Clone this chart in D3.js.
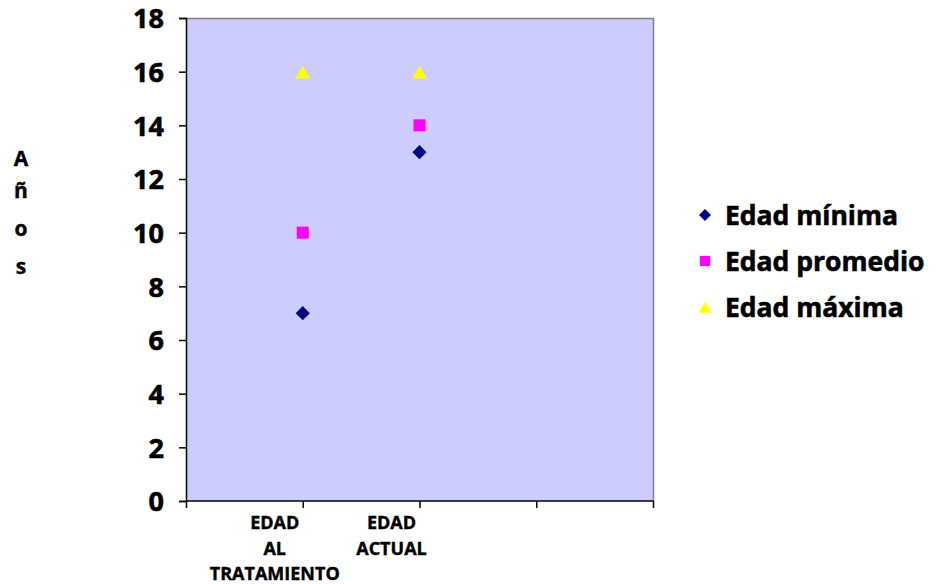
<!DOCTYPE html>
<html><head><meta charset="utf-8">
<script src="https://cdn.jsdelivr.net/npm/d3@7"></script>
<style>body{margin:0;background:#fff}svg{display:block}</style>
</head><body>
<svg id="c" width="937" height="584"></svg>
<script>
const slots = ["s0","s1","s2","s3","s4"];
const categories = ["EDAD AL TRATAMIENTO","EDAD ACTUAL"];
const categorySlots = ["s1","s2"];
const categoryLines = [["EDAD","AL","TRATAMIENTO"],["EDAD","ACTUAL"]];
const edadMinima = [7,13];
const edadPromedio = [10,14];
const edadMaxima = [16,16];
const yTicks = [0,2,4,6,8,10,12,14,16,18];
const seriesNames = ["Edad mínima","Edad promedio","Edad máxima"];
const yTitle = ["A","ñ","o","s"];

const svg = d3.select("#c");
const font = "'Open Sans', sans-serif";
const L=186, R=653, T=18, B=501;
const x = d3.scalePoint().domain(slots).range([L,R]);
const y = d3.scaleLinear().domain([0,18]).range([B,T]);

function boldText(sel){
  return sel.attr("font-family",font).attr("font-weight","bold").attr("fill","#000")
    .attr("stroke","#000").attr("stroke-width",0.6);
}

svg.append("rect").attr("x",L).attr("y",T).attr("width",R-L).attr("height",B-T).attr("fill","#CCCCFF");
svg.append("path").attr("d",`M${L},${T+0.5}H${R+0.5}V${B}`).attr("fill","none").attr("stroke","#808080").attr("stroke-width",1.5);

const ya = svg.append("g").attr("transform",`translate(${L},0)`)
  .call(d3.axisLeft(y).tickValues(yTicks).tickSize(7).tickPadding(15));
ya.select(".domain").attr("stroke","#000").attr("stroke-width",1.5);
ya.selectAll(".tick line").attr("stroke","#000").attr("stroke-width",1.5);
boldText(ya.selectAll(".tick text")).attr("font-size",27).attr("dy","0.36em");

const xa = svg.append("g").attr("transform",`translate(0,${B})`)
  .call(d3.axisBottom(x).tickSize(7).tickFormat(""));
xa.select(".domain").attr("d",`M${L},0H${R+0.5}`).attr("stroke","#000").attr("stroke-width",1.5);
xa.selectAll(".tick line").attr("stroke","#000").attr("stroke-width",1.5);

const labelShift = -28;
categorySlots.forEach((s,i)=>{
  const cx = x(s) + labelShift;
  const t = boldText(svg.append("text").attr("x",cx).attr("text-anchor","middle")).attr("font-size",18).attr("stroke-width",0.4);
  categoryLines[i].forEach((ln,j)=>t.append("tspan").attr("x",cx).attr("y",529+j*25.5).text(ln));
});

yTitle.forEach((ch,i)=>{
  boldText(svg.append("text").attr("x",21).attr("y",[166,198,236,274][i]).attr("text-anchor","middle"))
    .attr("font-size",21).attr("stroke-width",0.4).text(ch);
});

const series = [
  {name:seriesNames[0], values:edadMinima, kind:"diamond", color:"#000080"},
  {name:seriesNames[1], values:edadPromedio, kind:"square", color:"#FF00FF"},
  {name:seriesNames[2], values:edadMaxima, kind:"triangle", color:"#FFFF00"}
];
function marker(s){
  if(s.kind==="diamond") return d3.symbol(d3.symbolSquare,100)();
  if(s.kind==="square") return d3.symbol(d3.symbolSquare,145)();
  return d3.symbol(d3.symbolTriangle,95)();
}
function markerTransform(s, cx, cy, k){
  if(s.kind==="diamond") return `translate(${cx},${cy}) rotate(45) scale(${k})`;
  if(s.kind==="triangle") return `translate(${cx},${cy+2.5*k}) scale(${k})`;
  return `translate(${cx},${cy}) scale(${k})`;
}
series.forEach(s=>{
  s.values.forEach((v,i)=>{
    svg.append("path").attr("d",marker(s))
      .attr("transform",markerTransform(s, x(categorySlots[i]), y(v), 1))
      .attr("fill",s.color);
  });
});

series.forEach((s,i)=>{
  const ly = 215 + i*46;
  svg.append("path").attr("d",marker(s)).attr("transform",markerTransform(s,705,ly,0.85)).attr("fill",s.color);
  boldText(svg.append("text").attr("x",725).attr("y",ly).attr("dy","0.36em"))
    .attr("font-size",26.5).text(s.name);
});
</script>
</body></html>
